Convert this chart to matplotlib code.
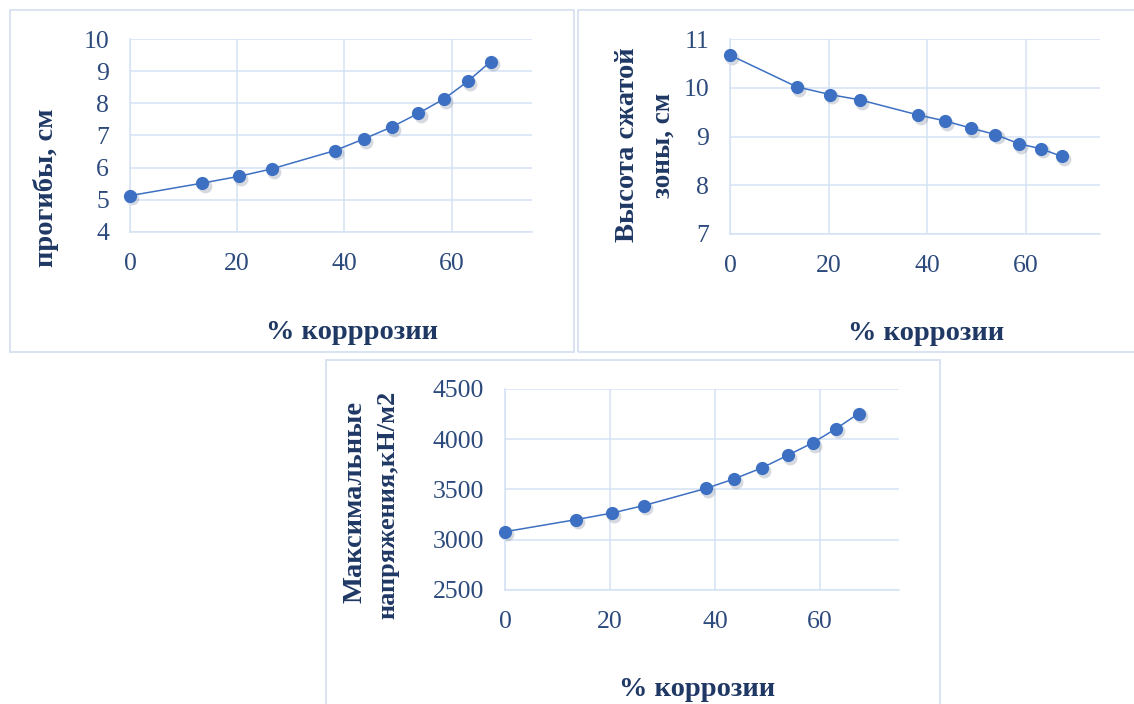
import matplotlib
matplotlib.use("Agg")
import matplotlib.pyplot as plt
import matplotlib.transforms as mtransforms
from matplotlib.patches import Rectangle

# Corrosion level, % (shared by all three charts)
corrosion = [0, 13.5, 20.3, 26.4, 38.2, 43.6, 48.9, 53.8, 58.6, 63.0, 67.3]

# Deflection, cm
deflection = [5.13, 5.52, 5.73, 5.96, 6.53, 6.89, 7.27, 7.69, 8.14, 8.68, 9.30]

# Height of the compressed zone, cm
zone_height = [10.67, 10.02, 9.86, 9.75, 9.44, 9.32, 9.17, 9.04, 8.85, 8.75, 8.59]

# Maximum stresses, kN/m2
max_stress = [3080, 3200, 3265, 3340, 3510, 3605, 3715, 3840, 3965, 4105, 4255]

x_ticks = [0, 20, 40, 60]

W, H = 1134, 704
fig = plt.figure(figsize=(W / 100, H / 100), dpi=100)
fig.patch.set_facecolor("white")

SERIF = ["Liberation Serif", "DejaVu Serif"]
NAVY = "#1f3864"
TICK_COL = "#2c4a7c"
GRID = "#d5e2f4"
FRAME = "#d9e3f2"
MARK = "#3d70c2"
LABEL_SIZE = 20.5


def px_axes(left, top, right, bottom):
    return fig.add_axes([left / W, 1 - bottom / H, (right - left) / W, (bottom - top) / H])


def frame(left, top, right, bottom):
    fig.patches.append(Rectangle((left / W, 1 - bottom / H), (right - left) / W, (bottom - top) / H,
                                 transform=fig.transFigure, fill=False, edgecolor=FRAME,
                                 linewidth=1.4, zorder=0))


def label(x, y, text, size=LABEL_SIZE, rotation=0):
    fig.text(x / W, 1 - y / H, text, rotation=rotation, ha="center", va="center",
             family=SERIF, fontweight="bold", fontsize=size, color=NAVY)


def draw_series(ax, xs, ys, yticks):
    shadow = ax.transData + mtransforms.ScaledTranslation(1.6 / 72, -2.0 / 72, fig.dpi_scale_trans)
    ax.plot(xs, ys, "o", color="#7a8799", alpha=0.3, markersize=10, markeredgewidth=0,
            transform=shadow, zorder=2, clip_on=False)
    ax.plot(xs, ys, "-o", color=MARK, linewidth=1.1, markersize=9.5, markeredgewidth=0,
            zorder=3, clip_on=False)
    ax.set_xlim(0, 75)
    ax.set_ylim(yticks[0], yticks[-1])
    ax.set_xticks(x_ticks)
    ax.set_yticks(yticks)
    ax.grid(True, color=GRID, linewidth=1.1)
    ax.set_axisbelow(True)
    for s in ("top", "right"):
        ax.spines[s].set_visible(False)
    for s in ("left", "bottom"):
        ax.spines[s].set_color(GRID)
        ax.spines[s].set_linewidth(1.1)
    ax.tick_params(length=0, labelsize=18.5, labelcolor=TICK_COL, pad=15)
    for lab in ax.get_xticklabels() + ax.get_yticklabels():
        lab.set_family(SERIF)


# Top-left: deflection
frame(10, 10, 574, 352)
ax1 = px_axes(130, 39, 532, 232)
draw_series(ax1, corrosion, deflection, [4, 5, 6, 7, 8, 9, 10])
label(46, 188, "прогибы, см", rotation=90)
label(352, 332, "% корррозии")

# Top-right: compressed zone height
frame(578, 10, 1140, 352)
ax2 = px_axes(730, 39, 1100, 234)
draw_series(ax2, corrosion, zone_height, [7, 8, 9, 10, 11])
label(628, 145, "Высота сжатой", rotation=90)
label(663, 145, "зоны, см", size=19.5, rotation=90)
label(926, 333, "% коррозии")

# Bottom: maximum stresses
frame(326, 360, 940, 720)
ax3 = px_axes(505, 389, 899, 590)
draw_series(ax3, corrosion, max_stress, [2500, 3000, 3500, 4000, 4500])
label(355, 502, "Максимальные", rotation=90)
label(388, 505, "напряжения,кН/м2", size=19, rotation=90)
label(697, 690, "% коррозии")

fig.savefig("out.png", dpi=100, facecolor="white")
